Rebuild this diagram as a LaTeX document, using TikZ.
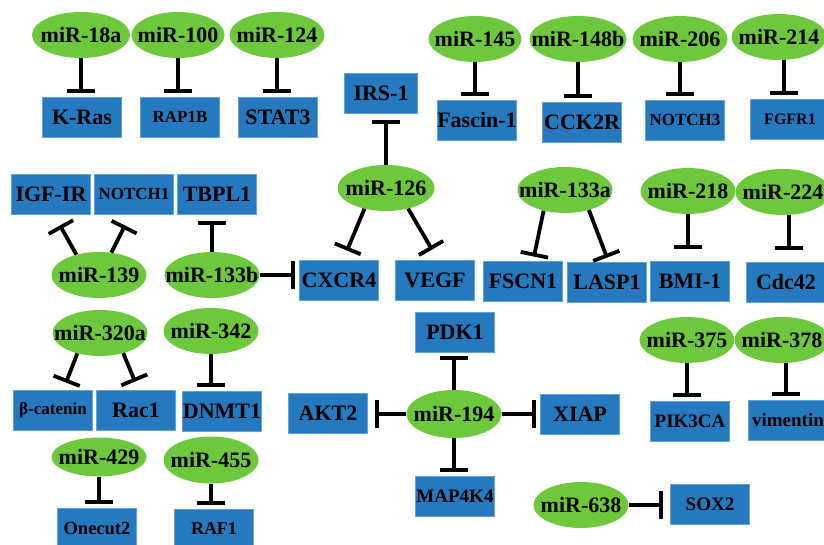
\documentclass[tikz,border=0pt]{standalone}
\usepackage{fontspec}
\setmainfont{Liberation Serif}
\usetikzlibrary{shapes.geometric,arrows.meta,calc}
\definecolor{mirgreen}{HTML}{6EC83C}
\definecolor{tgtblue}{HTML}{2479BF}
\definecolor{tgtedge}{HTML}{62A2DC}
\newcommand\mt[1]{\makebox[0pt]{#1}}
\tikzset{
  mir/.style={ellipse, fill=mirgreen, minimum width=95pt, minimum height=46pt, inner sep=0pt,
    font=\bfseries\fontsize{22}{22}\selectfont},
  tgt/.style={rectangle, fill=tgtblue, draw=tgtedge, line width=0.8pt, minimum width=79pt,
    minimum height=40pt, inner sep=0pt, font=\bfseries\fontsize{22}{22}\selectfont},
  sm/.style={font=\bfseries\fontsize{17}{17}\selectfont},
  smm/.style={font=\bfseries\fontsize{19}{19}\selectfont},
  inh/.style={line width=3.8pt, -{Bar[width=28pt]}},
  g4/.style={shorten >=4pt},
  g7/.style={shorten >=7pt},
  g12/.style={shorten >=12pt}
}
\begin{document}
\begin{tikzpicture}[x=1pt,y=-1pt]
\useasboundingbox (0,0) rectangle (824,544);
\clip (0,0) rectangle (824,544);
\fill[white] (0,0) rectangle (824,544);
% microRNAs
\node[mir, minimum width=98pt] (m18a) at (81,35) {\mt{miR-18a}};
\node[mir, minimum width=93pt] (m100) at (178,35) {\mt{miR-100}};
\node[mir] (m124) at (277,35) {\mt{miR-124}};
\node[mir, minimum width=93pt] (m145) at (475,39) {\mt{miR-145}};
\node[mir, minimum width=97pt] (m148b) at (578,39) {\mt{miR-148b}};
\node[mir] (m206) at (680,39) {\mt{miR-206}};
\node[mir] (m214) at (779,37) {\mt{miR-214}};
\node[mir, minimum width=97pt] (m126) at (386,188) {\mt{miR-126}};
\node[mir] (m139) at (99,275) {\mt{miR-139}};
\node[mir] (m133b) at (212,275) {\mt{miR-133b}};
\node[mir] (m133a) at (565,190) {\mt{miR-133a}};
\node[mir] (m218) at (688,191) {\mt{miR-218}};
\node[mir] (m224) at (783,192) {\mt{miR-224}};
\node[mir] (m375) at (687,340) {\mt{miR-375}};
\node[mir] (m378) at (782,340) {\mt{miR-378}};
\node[mir] (m320a) at (100,333) {\mt{miR-320a}};
\node[mir] (m342) at (211,331) {\mt{miR-342}};
\node[mir, minimum height=48pt] (m194) at (454,414) {\mt{miR-194}};
\node[mir, minimum height=39pt] (m429) at (99,457) {\mt{miR-429}};
\node[mir, minimum height=47pt] (m455) at (211,460) {\mt{miR-455}};
\node[mir] (m638) at (581,505) {\mt{miR-638}};
% targets
\node[tgt] (kras) at (82,117) {K-Ras};
\node[tgt, sm] (rap1b) at (180,117) {RAP1B};
\node[tgt] (stat3) at (278,117) {STAT3};
\node[tgt, minimum width=73pt] (irs1) at (381,93) {IRS-1};
\node[tgt] (fascin) at (477,120) {Fascin-1};
\node[tgt] (cck2r) at (582,122) {CCK2R};
\node[tgt, sm] (notch3) at (685,120) {NOTCH3};
\node[tgt, font=\bfseries\fontsize{16}{16}\selectfont] (fgfr1) at (790,119) {FGFR1};
\node[tgt] (igf) at (51,194) {IGF-IR};
\node[tgt, sm] (notch1) at (134,194) {NOTCH1};
\node[tgt] (tbpl1) at (217,194) {TBPL1};
\node[tgt] (cxcr4) at (339,280) {CXCR4};
\node[tgt] (vegf) at (435,280) {VEGF};
\node[tgt] (fscn1) at (523,281) {FSCN1};
\node[tgt] (lasp1) at (607,282) {LASP1};
\node[tgt] (bmi1) at (690,281) {BMI-1};
\node[tgt] (cdc42) at (786,282) {Cdc42};
\node[tgt] (pdk1) at (455,332) {PDK1};
\node[tgt, sm] (bcat) at (53,410) {β-catenin};
\node[tgt] (rac1) at (136,410) {Rac1};
\node[tgt] (dnmt1) at (222,411) {DNMT1};
\node[tgt] (akt2) at (328,413) {AKT2};
\node[tgt] (xiap) at (580,414) {XIAP};
\node[tgt, smm] (pik3ca) at (690,421) {PIK3CA};
\node[tgt, smm] (vim) at (788,420) {vimentin};
\node[tgt, smm] (map4k4) at (455,496) {MAP4K4};
\node[tgt, smm] (sox2) at (710,504) {SOX2};
\node[tgt, font=\bfseries\fontsize{18.5}{18.5}\selectfont] (onecut2) at (97,528) {Onecut2};
\node[tgt, font=\bfseries\fontsize{18}{18}\selectfont] (raf1) at (214,529) {RAF1};
% vertical inhibitions (down)
\draw[inh, g4] (m18a.south) -- (m18a.south |- kras.north);
\draw[inh, g4] (m100.south) -- (m100.south |- rap1b.north);
\draw[inh, g4] (m124.south) -- (m124.south |- stat3.north);
\draw[inh, g4] (m145.south) -- (m145.south |- fascin.north);
\draw[inh, g4] (m148b.south) -- (m148b.south |- cck2r.north);
\draw[inh, g4] (m206.south) -- (m206.south |- notch3.north);
\draw[inh, g4] ([xshift=5pt]m214.south) -- ([xshift=5pt]m214.south |- fgfr1.north);
\draw[inh, g12] (m218.south) -- (m218.south |- bmi1.north);
\draw[inh, g12] ([xshift=6pt]m224.south) -- ([xshift=6pt]m224.south |- cdc42.north);
\draw[inh, g4] (m342.south) -- (m342.south |- dnmt1.north);
\draw[inh, g4] (m375.south) -- (m375.south |- pik3ca.north);
\draw[inh, g4] ([xshift=4pt]m378.south) -- ([xshift=4pt]m378.south |- vim.north);
\draw[inh, g4] (m429.south) -- (m429.south |- onecut2.north);
\draw[inh, g4] (m455.south) -- (m455.south |- raf1.north);
\draw[inh, g4] (m194.south) -- (m194.south |- map4k4.north);
% vertical inhibitions (up)
\draw[inh, g7] (m126.north) -- (m126.north |- irs1.south);
\draw[inh, g7] (m133b.north) -- (m133b.north |- tbpl1.south);
\draw[inh, g4] (m194.north) -- (m194.north |- pdk1.south);
% horizontal inhibitions
\draw[inh, g4] (m133b.east) -- (m133b.east -| cxcr4.west);
\draw[inh, g7] (m194.west) -- (m194.west -| akt2.east);
\draw[inh, g4] (m194.east) -- (m194.east -| xiap.west);
\draw[inh, g7] (m638.east) -- (m638.east -| sox2.west);
% diagonal inhibitions
\draw[inh] (m139.138) -- ($(igf.south)+(9,11)$);
\draw[inh] (m139.61) -- ($(notch1.south)+(-9,11)$);
\draw[inh] (m126.224) -- ($(cxcr4.north)+(8,-9)$);
\draw[inh] (m126.317) -- ($(vegf.north)+(-3,-10)$);
\draw[inh] (m133a.224) -- ($(fscn1.north)+(11,-4)$);
\draw[inh] (m133a.320) -- ($(lasp1.north)+(0,-4)$);
\draw[inh] (m320a.222) -- ($(bcat.north)+(13,-7)$);
\draw[inh] (m320a.319) -- ($(rac1.north)+(-1,-8)$);
\end{tikzpicture}
\end{document}
